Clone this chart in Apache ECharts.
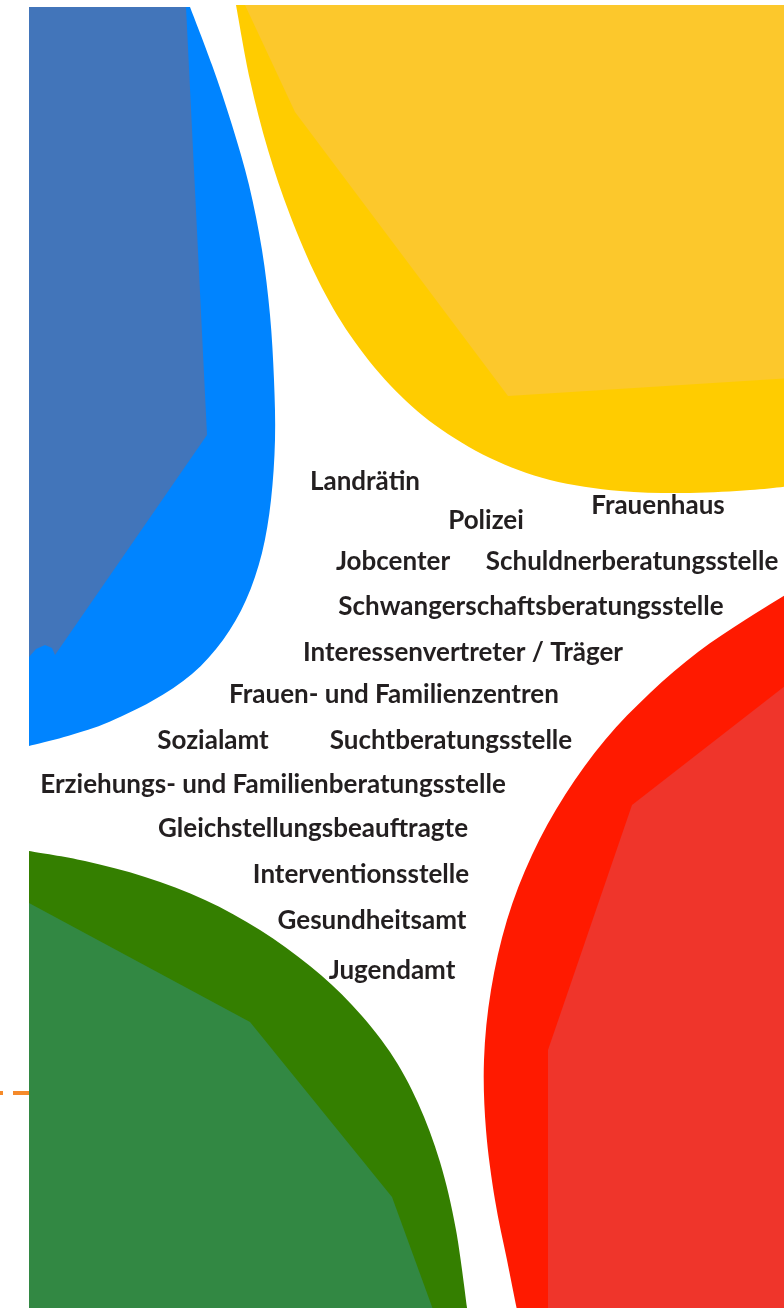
<!DOCTYPE html>
<html>
<head>
<meta charset="utf-8">
<script src="https://cdn.jsdelivr.net/npm/echarts@6/dist/echarts.min.js"></script>
<style>
html,body{margin:0;padding:0;background:#fff;}
#chart{width:784px;height:1308px;}
</style>
</head>
<body>
<div id="chart"></div>
<script>
// ---- Labels (centre points) ----
const labels = [
  'Landrätin','Polizei','Frauenhaus','Jobcenter','Schuldnerberatungsstelle',
  'Schwangerschaftsberatungsstelle','Interessenvertreter / Träger','Frauen- und Familienzentren',
  'Sozialamt','Suchtberatungsstelle','Erziehungs- und Familienberatungsstelle',
  'Gleichstellungsbeauftragte','Interventionsstelle','Gesundheitsamt','Jugendamt'
];
const labelX = [365, 486, 658, 393, 632, 531, 463, 394, 213, 451, 273, 313, 361, 372, 392];
const labelY = [482, 521, 506, 562, 562, 607, 653, 695, 741, 741, 785, 829, 875, 921, 971];

// ---- Shape outlines ----
const blueOuterCurve = [[190,7],[212,65],[232,125],[249,185],[262,250],[270,315],[274,380],[275,440],[271,500],[262,553],[246,600],[223,640],[192,674],[152,701],[104,724],[64,737],[29,746]];
const blueOuterClose = [[29,7]];
const blueInner = [[29,7],[186,7],[207,435],[55,655],[52,648],[45,645],[36,649],[29,657]];

const yellowOuterCurve = [[236,5],[250,80],[268,150],[290,215],[318,280],[350,335],[390,385],[435,425],[490,458],[550,480],[620,491],[690,493],[750,490],[790,486]];
const yellowOuterClose = [[790,5]];
const yellowInner = [[245,5],[295,112],[508,396],[790,378],[790,5]];

const redOuterCurve = [[790,592],[745,620],[698,652],[650,693],[605,740],[565,795],[532,855],[507,920],[491,990],[484,1060],[486,1130],[495,1200],[507,1260],[518,1315]];
const redOuterClose = [[790,1315]];
const redInner = [[790,682],[632,805],[548,1050],[548,1315],[790,1315]];

const greenOuterCurve = [[29,851],[85,861],[145,877],[205,900],[260,930],[310,966],[352,1005],[390,1052],[418,1103],[440,1162],[456,1230],[468,1315]];
const greenOuterClose = [[29,1315]];
const greenInner = [[29,903],[250,1022],[392,1197],[435,1315],[29,1315]];

const dashX = [29, 0];
const dashY = [1093, 1093];

// ---- helpers ----
function smoothPath(curve, close) {
  const p = curve;
  let d = 'M' + p[0][0] + ' ' + p[0][1];
  for (let i = 0; i < p.length - 1; i++) {
    const p0 = p[i - 1] || p[i], p1 = p[i], p2 = p[i + 1], p3 = p[i + 2] || p[i + 1];
    const c1 = [p1[0] + (p2[0] - p0[0]) / 6, p1[1] + (p2[1] - p0[1]) / 6];
    const c2 = [p2[0] - (p3[0] - p1[0]) / 6, p2[1] - (p3[1] - p1[1]) / 6];
    d += ' C' + c1[0] + ' ' + c1[1] + ' ' + c2[0] + ' ' + c2[1] + ' ' + p2[0] + ' ' + p2[1];
  }
  close.forEach(c => { d += ' L' + c[0] + ' ' + c[1]; });
  return d + ' Z';
}

function curveSeries(curve, close, color) {
  return {
    type: 'custom', coordinateSystem: 'cartesian2d', silent: true, z: 1,
    data: curve.concat(close),
    encode: { x: 0, y: 1 },
    renderItem: function (params, api) {
      if (params.dataIndex !== 0) return null;
      const c = curve.map(pt => api.coord(pt));
      const cl = close.map(pt => api.coord(pt));
      return { type: 'path', shape: { pathData: smoothPath(c, cl) }, style: { fill: color } };
    }
  };
}
function polySeries(pts, color) {
  return {
    type: 'custom', coordinateSystem: 'cartesian2d', silent: true, z: 2,
    data: pts,
    encode: { x: 0, y: 1 },
    renderItem: function (params, api) {
      if (params.dataIndex !== 0) return null;
      return { type: 'polygon', shape: { points: pts.map(pt => api.coord(pt)) }, style: { fill: color } };
    }
  };
}

const chart = echarts.init(document.getElementById('chart'), null, { renderer: 'canvas' });
chart.setOption({
  animation: false,
  backgroundColor: '#ffffff',
  grid: { left: 0, right: 0, top: 0, bottom: 0 },
  xAxis: { type: 'value', min: 0, max: 784, show: false },
  yAxis: { type: 'value', min: 0, max: 1308, inverse: true, show: false },
  series: [
    curveSeries(blueOuterCurve, blueOuterClose, '#0084FF'),
    polySeries(blueInner, '#4275BA'),
    curveSeries(yellowOuterCurve, yellowOuterClose, '#FFCC00'),
    polySeries(yellowInner, '#FCC82C'),
    curveSeries(redOuterCurve, redOuterClose, '#FF1A00'),
    polySeries(redInner, '#EF352B'),
    curveSeries(greenOuterCurve, greenOuterClose, '#347F00'),
    polySeries(greenInner, '#328843'),
    {
      type: 'line', silent: true, symbol: 'none', z: 3,
      data: dashX.map((x, i) => [x, dashY[i]]),
      lineStyle: { color: '#F58A2A', width: 4, type: [16, 10] }
    },
    {
      type: 'scatter', silent: true, z: 5,
      symbolSize: 1,
      itemStyle: { color: 'rgba(0,0,0,0)', opacity: 1 },
      data: labels.map((n, i) => ({ name: n, value: [labelX[i], labelY[i]] })),
      label: {
        show: true, position: 'inside', formatter: p => p.name,
        fontFamily: 'Lato', fontWeight: 'bold', fontSize: 26, color: '#231F20',
        textBorderWidth: 0
      }
    }
  ]
});
</script>
</body>
</html>
